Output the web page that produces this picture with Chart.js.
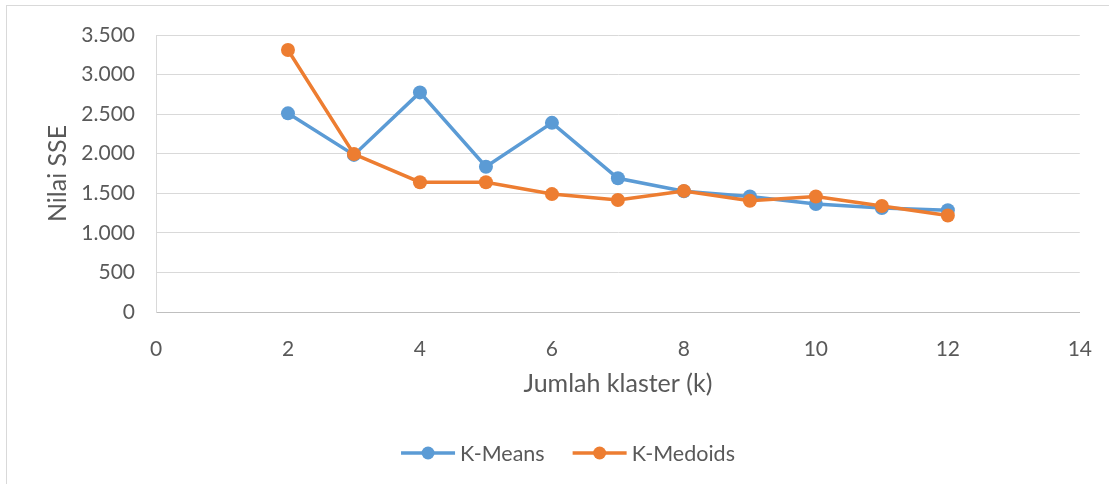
<!DOCTYPE html>
<html>
<head>
<meta charset="utf-8">
<script src="https://cdn.jsdelivr.net/npm/chart.js@4.4.0/dist/chart.umd.min.js"></script>
<style>
  html, body { margin: 0; padding: 0; background: #fff; }
  #wrap { position: relative; width: 1109px; height: 484px; overflow: hidden; }
  #frame { position: absolute; left: 6px; top: 5px; width: 1200px; height: 600px;
           border: 1.5px solid #D9D9D9; pointer-events: none; }
  canvas { position: absolute; left: 0; top: 0; }
</style>
</head>
<body>
<div id="wrap">
  <canvas id="grafik" width="1109" height="484"></canvas>
  <div id="frame"></div>
</div>
<script>
// data (jumlah klaster vs nilai SSE)
const jumlahKlaster = [2, 3, 4, 5, 6, 7, 8, 9, 10, 11, 12];
const sseKMeans   = [2510, 1985, 2775, 1835, 2390, 1690, 1525, 1460, 1365, 1315, 1285];
const sseKMedoids = [3310, 1995, 1640, 1640, 1490, 1415, 1530, 1405, 1460, 1340, 1220];
const yTicks = [0, 500, 1000, 1500, 2000, 2500, 3000, 3500];

const warnaTeks = '#595959';
const fontLato = 'Lato, "Noto Sans", sans-serif';

function titikTitik(v) {
  return String(v).replace(/\B(?=(\d{3})+(?!\d))/g, '.');
}

// legenda gaya Excel: garis dengan titik di tengah
const legendaExcel = {
  id: 'legendaExcel',
  afterDraw(chart) {
    const ctx = chart.ctx;
    const y = 453;
    const garis = 54, jarakTeks = 5, jarakItem = 28;
    ctx.save();
    ctx.font = '21.5px ' + fontLato;
    const items = chart.data.datasets.map(ds => ({ ds, w: ctx.measureText(ds.label).width }));
    let total = 0;
    items.forEach((it, i) => { total += garis + jarakTeks + it.w + (i ? jarakItem : 0); });
    let x = 568 - total / 2;
    items.forEach((it, i) => {
      if (i) x += jarakItem;
      ctx.strokeStyle = it.ds.borderColor;
      ctx.lineWidth = 3.5;
      ctx.beginPath();
      ctx.moveTo(x, y);
      ctx.lineTo(x + garis, y);
      ctx.stroke();
      ctx.fillStyle = it.ds.borderColor;
      ctx.beginPath();
      ctx.arc(x + garis / 2, y, 6.5, 0, Math.PI * 2);
      ctx.fill();
      x += garis + jarakTeks;
      ctx.fillStyle = warnaTeks;
      ctx.textBaseline = 'middle';
      ctx.textAlign = 'left';
      ctx.fillText(it.ds.label, x, y + 1);
      x += it.w;
    });
    ctx.restore();
  }
};

const ctx = document.getElementById('grafik').getContext('2d');
new Chart(ctx, {
  type: 'line',
  data: {
    datasets: [
      {
        label: 'K-Means',
        data: jumlahKlaster.map((k, i) => ({ x: k, y: sseKMeans[i] })),
        borderColor: '#5B9BD5',
        backgroundColor: '#5B9BD5',
        borderWidth: 3.5,
        pointRadius: 7,
        pointBorderWidth: 0,
        tension: 0,
        order: 1
      },
      {
        label: 'K-Medoids',
        data: jumlahKlaster.map((k, i) => ({ x: k, y: sseKMedoids[i] })),
        borderColor: '#ED7D31',
        backgroundColor: '#ED7D31',
        borderWidth: 3.5,
        pointRadius: 7,
        pointBorderWidth: 0,
        tension: 0,
        order: 0
      }
    ]
  },
  options: {
    responsive: false,
    animation: false,
    layout: { padding: { left: 0, right: 29, top: 35, bottom: 85 } },
    plugins: {
      legend: { display: false },
      tooltip: { enabled: false }
    },
    scales: {
      x: {
        type: 'linear',
        min: 0,
        max: 14,
        grid: { display: false },
        border: { display: true, color: '#BFBFBF', width: 1 },
        ticks: {
          stepSize: 2,
          padding: 17,
          color: warnaTeks,
          font: { family: fontLato, size: 21 },
          maxRotation: 0
        },
        title: {
          display: true,
          text: 'Jumlah klaster (k)',
          color: warnaTeks,
          font: { family: fontLato, size: 25 },
          padding: { top: 0, bottom: 0 }
        },
        afterFit(scale) { scale.height = 87; }
      },
      y: {
        min: 0,
        max: 3500,
        afterBuildTicks(scale) { scale.ticks = yTicks.map(v => ({ value: v })); },
        grid: { color: '#D9D9D9', lineWidth: 1, drawTicks: false },
        border: { display: true, color: '#D9D9D9', width: 1 },
        ticks: {
          padding: 21,
          color: warnaTeks,
          font: { family: fontLato, size: 21 },
          callback: v => titikTitik(v)
        },
        title: {
          display: true,
          text: 'Nilai SSE',
          color: warnaTeks,
          font: { family: fontLato, size: 25 },
          padding: { top: 43, bottom: 0 }
        },
        afterFit(scale) { scale.width = 156; }
      }
    }
  },
  plugins: [legendaExcel]
});
</script>
</body>
</html>
